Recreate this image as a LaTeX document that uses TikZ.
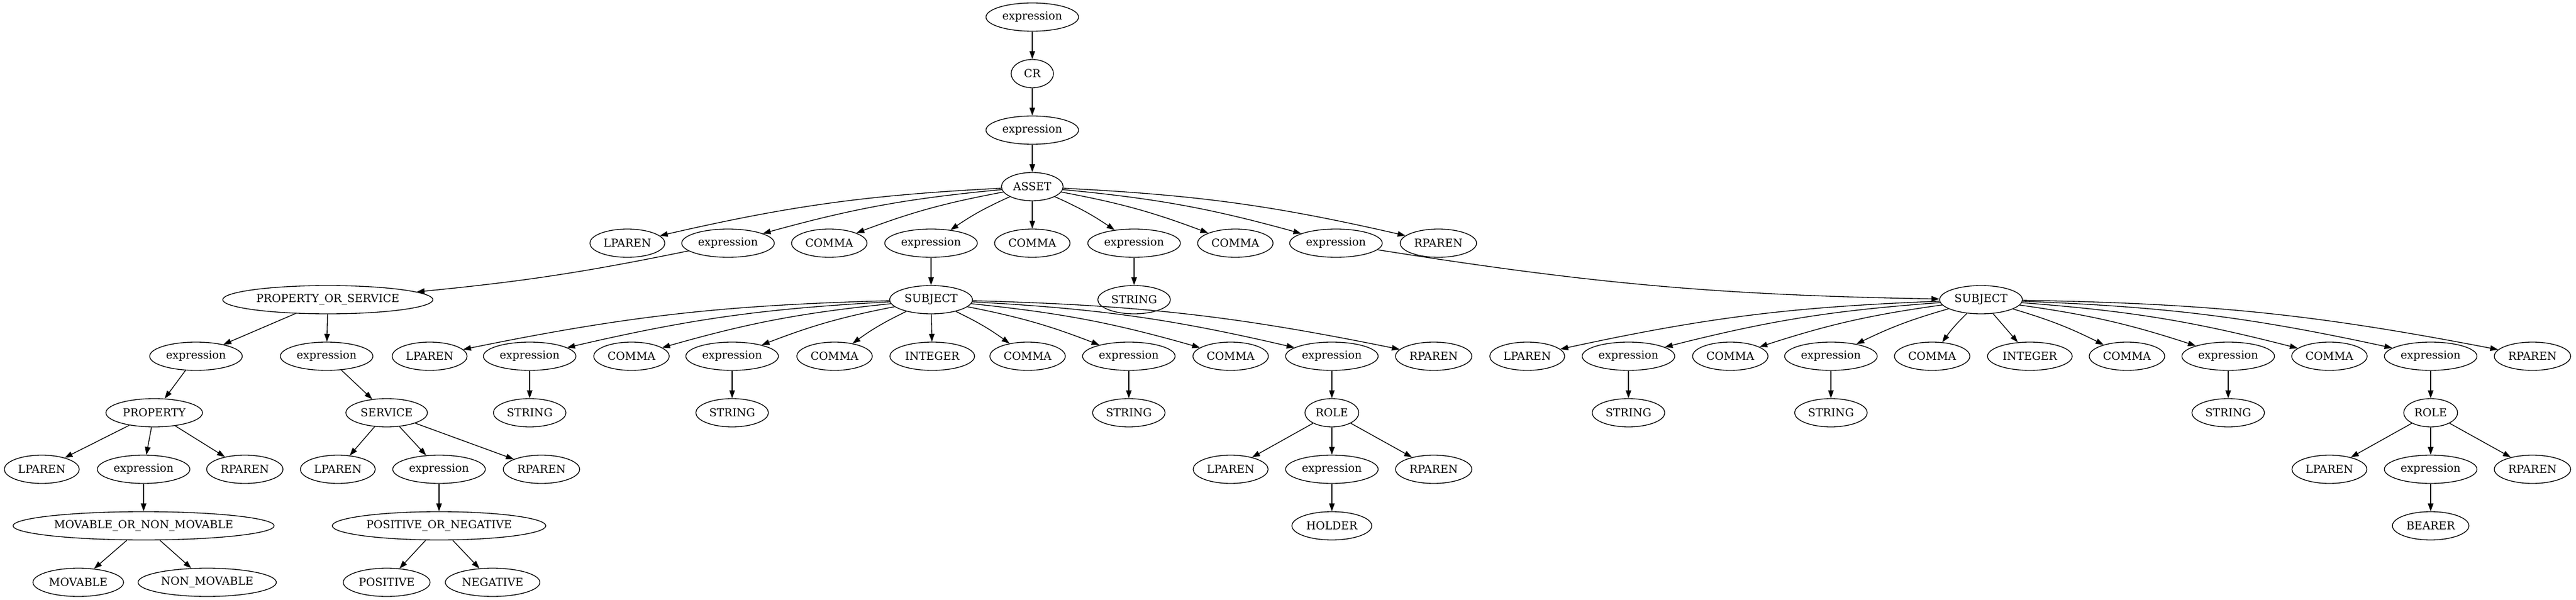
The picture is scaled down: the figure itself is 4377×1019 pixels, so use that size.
\documentclass[tikz,border=0pt]{standalone}
\usepackage{fontspec}
\setmainfont{DejaVu Serif}
\usetikzlibrary{shapes.geometric,arrows.meta}

\begin{document}
\begin{tikzpicture}[
x=0.75pt, y=-0.75pt,
line width=1pt,
>={Triangle[length=10pt,width=7pt]},
sym/.style={ellipse, draw, inner xsep=3.5pt, inner ysep=2pt,
  minimum width=54pt, minimum height=36pt, font=\fontsize{14pt}{16pt}\selectfont},
fanl/.style={bend right=5},
fanr/.style={bend left=5}]
\useasboundingbox (0,0) rectangle (4377,1019);

% top chain
\node[sym] (e0) at (1754,29) {expression};
\node[sym] (cr) at (1754,125) {CR};
\node[sym] (e1) at (1754,221) {expression};
\node[sym] (asset) at (1754,317) {ASSET};

% children of ASSET
\node[sym] (lp) at (1066,413) {LPAREN};
\node[sym] (ex1) at (1237,413) {expression};
\node[sym] (cm1) at (1409,413) {COMMA};
\node[sym] (ex2) at (1582,413) {expression};
\node[sym] (cm2) at (1754,413) {COMMA};
\node[sym] (ex3) at (1927,413) {expression};
\node[sym] (cm3) at (2099,413) {COMMA};
\node[sym] (ex4) at (2270,413) {expression};
\node[sym] (rp) at (2444,413) {RPAREN};

\node[sym] (pos) at (557,509) {PROPERTY\_OR\_SERVICE};
\node[sym] (subjA) at (1582,509) {SUBJECT};
\node[sym] (strA) at (1927,509) {STRING};
\node[sym] (subjB) at (3366,509) {SUBJECT};

% property or service
\node[sym] (exP) at (333,605) {expression};
\node[sym] (exS) at (555,605) {expression};
\node[sym] (prop) at (262,701) {PROPERTY};
\node[sym] (serv) at (657,701) {SERVICE};
\node[sym] (lpP) at (71,797) {LPAREN};
\node[sym] (exPP) at (244,797) {expression};
\node[sym] (rpP) at (416,797) {RPAREN};
\node[sym] (lpS) at (574,797) {LPAREN};
\node[sym] (exSS) at (746,797) {expression};
\node[sym] (rpS) at (920,797) {RPAREN};
\node[sym] (mov) at (244,893) {MOVABLE\_OR\_NON\_MOVABLE};
\node[sym] (posneg) at (746,893) {POSITIVE\_OR\_NEGATIVE};
\node[sym] (movable) at (133,989) {MOVABLE};
\node[sym] (nonmov) at (352,989) {NON\_MOVABLE};
\node[sym] (positive) at (657,989) {POSITIVE};
\node[sym] (negative) at (837,989) {NEGATIVE};

% first subject
\node[sym] (lpA) at (730,605) {LPAREN};
\node[sym] (exA1) at (900,605) {expression};
\node[sym] (cmA1) at (1073,605) {COMMA};
\node[sym] (exA2) at (1244,605) {expression};
\node[sym] (cmA2) at (1418,605) {COMMA};
\node[sym] (intA) at (1584,605) {INTEGER};
\node[sym] (cmA3) at (1746,605) {COMMA};
\node[sym] (exA3) at (1918,605) {expression};
\node[sym] (cmA4) at (2091,605) {COMMA};
\node[sym] (exA4) at (2263,605) {expression};
\node[sym] (rpA) at (2436,605) {RPAREN};
\node[sym] (strA1) at (900,701) {STRING};
\node[sym] (strA2) at (1244,701) {STRING};
\node[sym] (strA3) at (1918,701) {STRING};
\node[sym] (roleA) at (2263,701) {ROLE};
\node[sym] (lpR) at (2091,797) {LPAREN};
\node[sym] (exR) at (2263,797) {expression};
\node[sym] (rpR) at (2436,797) {RPAREN};
\node[sym] (holder) at (2263,893) {HOLDER};

% second subject
\node[sym] (lpB) at (2595,605) {LPAREN};
\node[sym] (exB1) at (2767,605) {expression};
\node[sym] (cmB1) at (2940,605) {COMMA};
\node[sym] (exB2) at (3111,605) {expression};
\node[sym] (cmB2) at (3283,605) {COMMA};
\node[sym] (intB) at (3449,605) {INTEGER};
\node[sym] (cmB3) at (3614,605) {COMMA};
\node[sym] (exB3) at (3786,605) {expression};
\node[sym] (cmB4) at (3958,605) {COMMA};
\node[sym] (exB4) at (4130,605) {expression};
\node[sym] (rpB) at (4303,605) {RPAREN};
\node[sym] (strB1) at (2767,701) {STRING};
\node[sym] (strB2) at (3111,701) {STRING};
\node[sym] (strB3) at (3786,701) {STRING};
\node[sym] (roleB) at (4130,701) {ROLE};
\node[sym] (lpRB) at (3958,797) {LPAREN};
\node[sym] (exRB) at (4130,797) {expression};
\node[sym] (rpRB) at (4303,797) {RPAREN};
\node[sym] (bearer) at (4130,893) {BEARER};

\draw[->] (e0) -- (cr);
\draw[->] (cr) -- (e1);
\draw[->] (e1) -- (asset);
\draw[->] (asset) edge[fanl] (lp) edge[fanl] (ex1) edge[fanl] (cm1) edge[fanl] (ex2)
  edge (cm2) edge[fanr] (ex3) edge[fanr] (cm3) edge[fanr] (ex4) edge[fanr] (rp);
\draw[->] (ex1) to[bend left=3] (pos);
\draw[->] (ex2) -- (subjA);
\draw[->] (ex3) -- (strA);
\draw[->] (ex4) to[bend right=4] (subjB);

\draw[->] (pos) edge (exP) edge (exS);
\draw[->] (exP) -- (prop);
\draw[->] (exS) -- (serv);
\draw[->] (prop) edge (lpP) edge (exPP) edge (rpP);
\draw[->] (serv) edge (lpS) edge (exSS) edge (rpS);
\draw[->] (exPP) -- (mov);
\draw[->] (exSS) -- (posneg);
\draw[->] (mov) edge (movable) edge (nonmov);
\draw[->] (posneg) edge (positive) edge (negative);

\draw[->] (subjA) edge[fanl] (lpA) edge[fanl] (exA1) edge[fanl] (cmA1) edge[fanl] (exA2)
  edge[fanl] (cmA2) edge (intA) edge[fanr] (cmA3) edge[fanr] (exA3) edge[fanr] (cmA4)
  edge[fanr] (exA4) edge[fanr] (rpA);
\draw[->] (exA1) -- (strA1);
\draw[->] (exA2) -- (strA2);
\draw[->] (exA3) -- (strA3);
\draw[->] (exA4) -- (roleA);
\draw[->] (roleA) edge (lpR) edge (exR) edge (rpR);
\draw[->] (exR) -- (holder);

\draw[->] (subjB) edge[fanl] (lpB) edge[fanl] (exB1) edge[fanl] (cmB1) edge[fanl] (exB2)
  edge[fanl] (cmB2) edge (intB) edge[fanr] (cmB3) edge[fanr] (exB3) edge[fanr] (cmB4)
  edge[fanr] (exB4) edge[fanr] (rpB);
\draw[->] (exB1) -- (strB1);
\draw[->] (exB2) -- (strB2);
\draw[->] (exB3) -- (strB3);
\draw[->] (exB4) -- (roleB);
\draw[->] (roleB) edge (lpRB) edge (exRB) edge (rpRB);
\draw[->] (exRB) -- (bearer);
\end{tikzpicture}
\end{document}
